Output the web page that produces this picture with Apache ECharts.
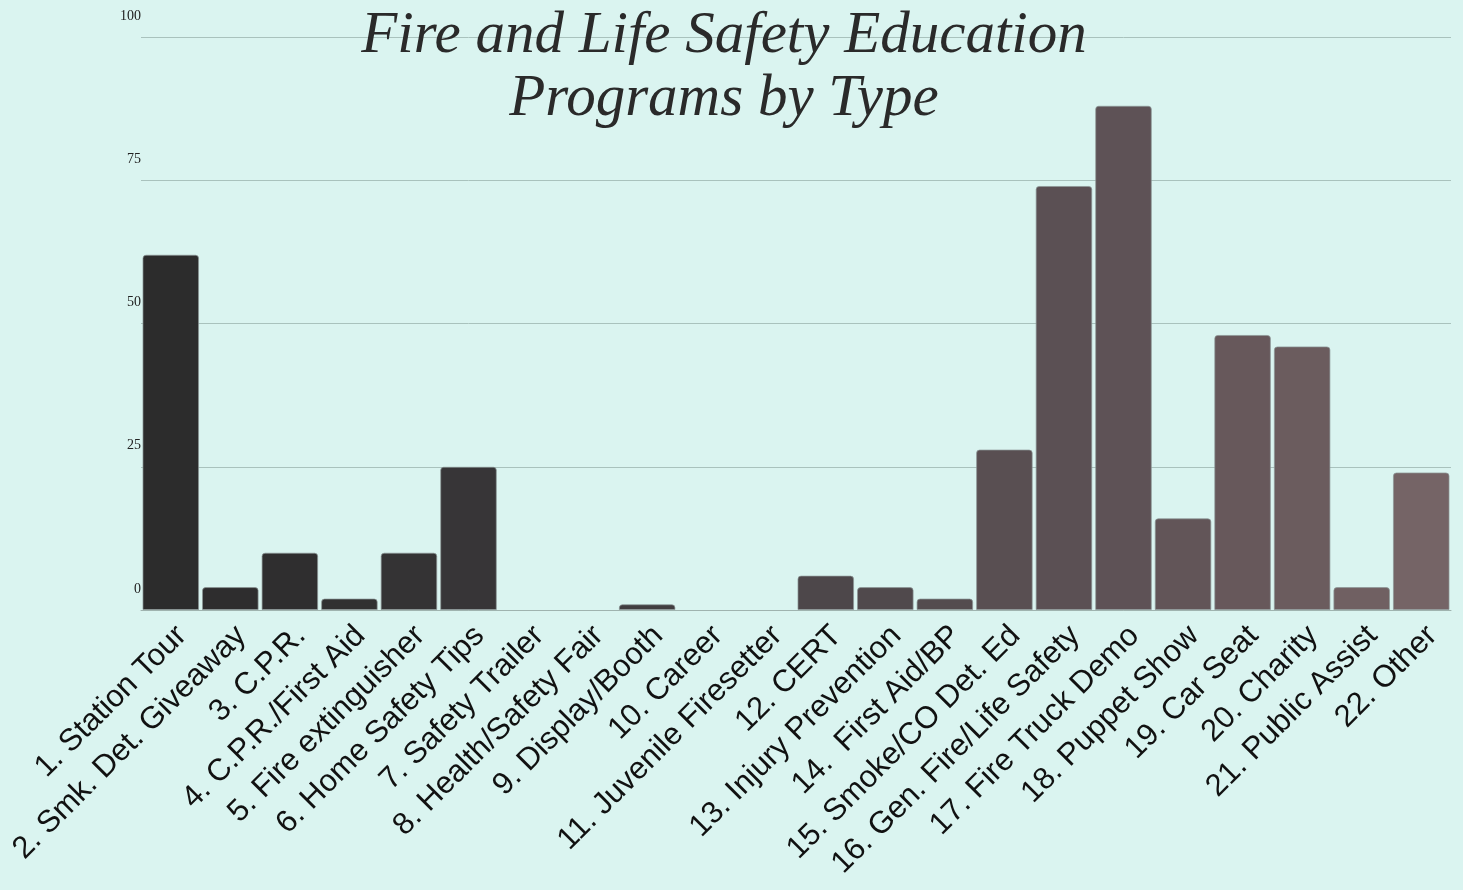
<!DOCTYPE html>
<html>
<head>
<meta charset="utf-8">
<script src="https://cdn.jsdelivr.net/npm/echarts@6/dist/echarts.min.js"></script>
<style>
  html, body { margin: 0; padding: 0; background: #daf4f0; }
  #chart { width: 1463px; height: 890px; }
</style>
</head>
<body>
<div id="chart"></div>
<script>
// program types
const categories = [
  "1. Station Tour", "2. Smk. Det. Giveaway", "3. C.P.R.", "4. C.P.R./First Aid",
  "5. Fire extinguisher", "6. Home Safety Tips", "7. Safety Trailer", "8. Health/Safety Fair",
  "9. Display/Booth", "10. Career", "11. Juvenile Firesetter", "12. CERT",
  "13. Injury Prevention", "14.  First Aid/BP", "15. Smoke/CO Det. Ed", "16. Gen. Fire/Life Safety",
  "17. Fire Truck Demo", "18. Puppet Show", "19. Car Seat", "20. Charity",
  "21. Public Assist", "22. Other"
];
const programs = [62, 4, 10, 2, 10, 25, 0, 0, 1, 0, 0, 6, 4, 2, 28, 74, 88, 16, 48, 46, 4, 24];
const yTicks = [0, 25, 50, 75, 100];

// bar shades, dark -> mauve
const barColors = [
  "#2c2c2c", "#2e2d2e", "#2f2e2f", "#313031", "#343334", "#373537", "#3a383a", "#3d3a3c",
  "#413d40", "#444043", "#484346", "#4d474a", "#50494c", "#544c4f", "#594f52", "#5b5054",
  "#5e5256", "#625558", "#67585b", "#6b5c5e", "#706062", "#756466"
];

const chart = echarts.init(document.getElementById("chart"));
chart.setOption({
  backgroundColor: "#daf4f0",
  graphic: [{
    type: "text",
    x: 724,
    y: 5,
    z: 10,
    style: {
      text: "Fire and Life Safety Education\nPrograms by Type",
      align: "center",
      verticalAlign: "top",
      font: "italic 59px 'Liberation Serif'",
      lineHeight: 63,
      fill: "#2a2a2a"
    }
  }],
  grid: { left: 141, right: 12, top: 37, bottom: 280, containLabel: false, outerBoundsMode: "none" },
  xAxis: {
    type: "category",
    data: categories,
    axisTick: { show: false },
    axisLine: { lineStyle: { color: "#9fb3af", width: 1 } },
    axisLabel: {
      interval: 0,
      rotate: 45,
      margin: 10,
      verticalAlign: "top",
      fontFamily: "Liberation Sans",
      fontSize: 31,
      color: "#111"
    }
  },
  yAxis: {
    type: "value",
    min: yTicks[0],
    max: yTicks[yTicks.length - 1],
    interval: 25,
    axisLine: { show: false },
    axisTick: { show: false },
    splitLine: { lineStyle: { color: "#a9c2bd", width: 1 } },
    axisLabel: {
      margin: 0,
      verticalAlign: "bottom",
      padding: [0, 0, 14, 0],
      fontFamily: "Liberation Serif",
      fontSize: 14,
      color: "#222"
    }
  },
  series: [{
    type: "bar",
    barCategoryGap: "5%",
    data: programs.map((v, i) => ({
      value: v,
      itemStyle: { color: barColors[i], borderWidth: v === 0 ? 0 : 1 }
    })),
    itemStyle: {
      borderRadius: [3, 3, 0, 0],
      borderColor: "rgba(140,150,150,0.7)"
    }
  }]
});
</script>
</body>
</html>
